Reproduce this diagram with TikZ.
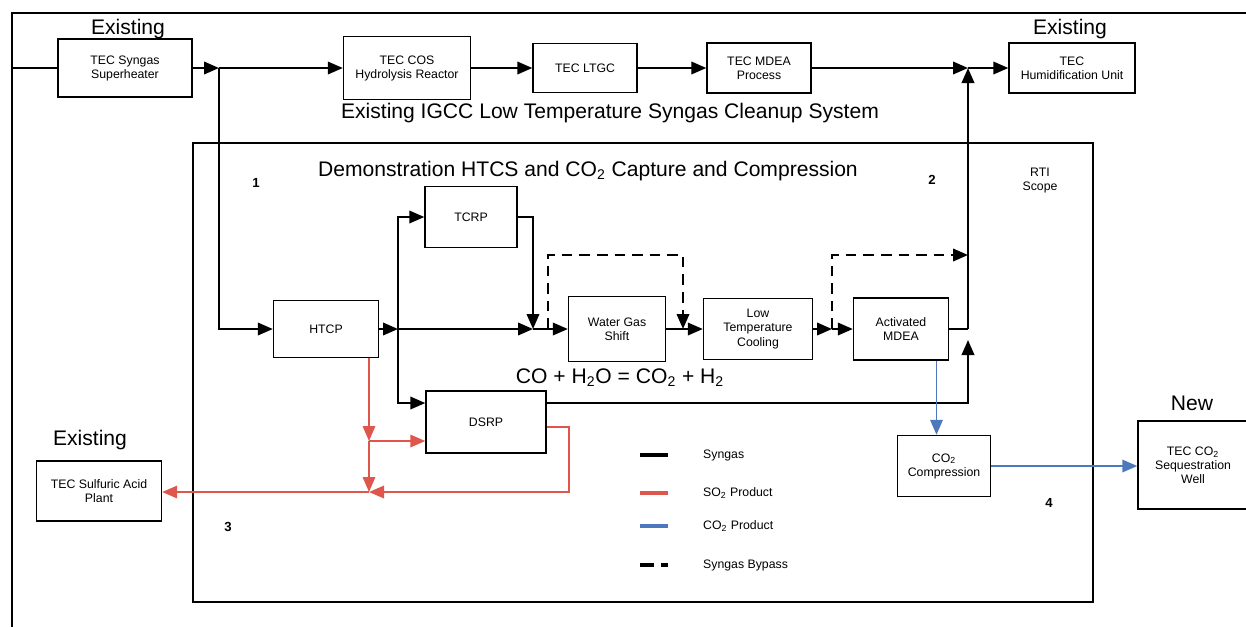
\documentclass[tikz,border=0pt]{standalone}
\usepackage{fontspec}
\setmainfont{Liberation Sans}
\setsansfont{Liberation Sans}
\usetikzlibrary{arrows.meta}

\begin{document}
\begin{tikzpicture}[x=0.02cm, y=-0.02cm, font=\sffamily,
  unit/.style={draw, line width=0.8pt, align=center, inner sep=1pt, font=\fontsize{7}{8}\selectfont},
  tag/.style={font=\fontsize{12}{14}\selectfont},
  title/.style={font=\fontsize{12}{14}\selectfont},
  num/.style={font=\fontsize{7.5}{9}\selectfont\bfseries},
  syn/.style={line width=1.2pt},
  flow/.style={syn, -{Triangle[length=3mm, width=2.5mm]}},
  bypass/.style={flow, dash pattern=on 6pt off 4pt},
  so2/.style={line width=1pt, draw={rgb,255:red,222;green,86;blue,76}, -{Triangle[length=3mm, width=2.5mm]}},
  co2/.style={line width=1pt, draw={rgb,255:red,78;green,120;blue,190}, -{Triangle[length=3mm, width=2.5mm]}}]
\useasboundingbox (0,0) rectangle (1246,627);
\draw[line width=1.6pt] (12,627) -- (12,13) -- (1246,13);
\draw[line width=0.8pt] (193,143) rectangle (1093,602);
\node[unit, minimum width=2.68cm, minimum height=1.16cm] (sup) at (125,68) {TEC Syngas\\Superheater};
\node[unit, minimum width=2.54cm, minimum height=1.26cm] (cos) at (407,68) {TEC COS\\Hydrolysis Reactor};
\node[unit, minimum width=2.08cm, minimum height=0.98cm] (ltgc) at (585,68) {TEC LTGC};
\node[unit, minimum width=2.08cm, minimum height=1.0cm] (mdeap) at (759,68) {TEC MDEA\\Process};
\node[unit, minimum width=2.52cm, minimum height=1.0cm] (hum) at (1072,68) {TEC\\Humidification Unit};
\node[unit, minimum width=1.84cm, minimum height=1.22cm] (tcrp) at (471,217) {TCRP};
\node[unit, minimum width=2.1cm, minimum height=1.14cm] (htcp) at (326,329) {HTCP};
\node[unit, minimum width=1.94cm, minimum height=1.3cm] (wgs) at (617,329) {Water Gas\\Shift};
\node[unit, minimum width=2.18cm, minimum height=1.22cm] (ltc) at (758,329) {Low\\Temperature\\Cooling};
\node[unit, minimum width=1.9cm, minimum height=1.24cm] (amdea) at (901,329) {Activated\\MDEA};
\node[unit, minimum width=2.4cm, minimum height=1.24cm] (dsrp) at (486,422) {DSRP};
\node[unit, minimum width=1.86cm, minimum height=1.22cm] (comp) at (944,466) {CO\textsubscript{2}\\Compression};
\node[unit, minimum width=2.2cm, minimum height=1.76cm] (well) at (1193,465) {TEC CO\textsubscript{2}\\Sequestration\\Well};
\node[unit, minimum width=2.5cm, minimum height=1.2cm] (sulf) at (99,491) {TEC Sulfuric Acid\\Plant};
\node[tag] (ex1) at (128,29) {Existing};
\node[tag] (ex2) at (1070,29) {Existing};
\node[tag] (ex3) at (90,440) {Existing};
\node[tag] (new) at (1192,403) {New};
\node[title] (igcc) at (610,113) {Existing IGCC Low Temperature Syngas Cleanup System};
\node[title] (demo) at (588,171) {Demonstration HTCS and CO\textsubscript{2} Capture and Compression};
\node[font=\fontsize{12}{14}\selectfont] (react) at (620,378) {CO + H\textsubscript{2}O = CO\textsubscript{2} + H\textsubscript{2}};
\node[align=center, font=\fontsize{7}{8}\selectfont] (rti) at (1040,181) {RTI\\Scope};
\foreach \n/\x/\y in {1/256/183, 2/932/180, 3/228/527, 4/1049/503}{\node[num] at (\x,\y) {\n};}
\coordinate (inlet) at (12,68);
\coordinate (j1) at (219,68);
\coordinate (j2) at (398,329);
\coordinate (j3) at (968,68);
\coordinate (j4) at (533,329);
\coordinate (j5) at (832,329);
\coordinate (j7) at (968,340);
\coordinate (j8) at (968,255);
\coordinate (b1) at (548,329);
\coordinate (b2) at (683,329);
\coordinate (r1) at (369,441);
\coordinate (r2) at (369,492);
\draw[syn] (inlet) -- (sup);
\draw[flow] (sup) -- (j1);
\draw[flow] (j1) -- (cos);
\draw[flow] (cos) -- (ltgc);
\draw[flow] (ltgc) -- (mdeap);
\draw[flow] (mdeap) -- (j3);
\draw[flow] (j3) -- (hum);
\draw[flow] (j1) |- (htcp);
\draw[flow] (htcp) -- (j2);
\draw[flow] (j2) |- (tcrp);
\draw[flow] (j2) -- (j4);
\draw[flow] (tcrp) -| (j4);
\draw[flow] (j4) -- (wgs);
\draw[flow] (wgs) -- (ltc);
\draw[flow] (ltc) -- (j5);
\draw[flow] (j5) -- (amdea);
\draw[syn] (amdea) -- (amdea -| j3);
\draw[flow] (amdea -| j3) -- (j3);
\draw[flow] (j2) |- ([yshift=0.38cm]dsrp.west);
\draw[flow] ([yshift=0.38cm]dsrp.east) -| (j7);
\draw[bypass] (b1) -- ++(0,-74) -| (b2);
\draw[bypass] (j5) -- ++(0,-74) -- (j8);
\draw[so2] (r1 |- htcp.south) -- (r1);
\draw[so2] (r1) -- (r1 -| dsrp.west);
\draw[so2] (r1) -- (r2);
\draw[so2] ([yshift=-0.1cm]dsrp.east) -- ++(22,0) |- (r2);
\draw[so2] (r2) -- (r2 -| sulf.east);
\draw[co2] ([xshift=0.71cm]amdea.south) -- ([xshift=0.71cm]amdea.south |- comp.north);
\draw[co2] (comp) -- (comp -| well.west);
\foreach \y/\col/\txt in {455/black/Syngas, 493/{rgb,255:red,222;green,86;blue,76}/SO\textsubscript{2} Product, 526/{rgb,255:red,78;green,120;blue,190}/CO\textsubscript{2} Product}{\draw[line width=2.2pt, draw=\col] (640,\y) -- (668,\y);\node[anchor=west, font=\fontsize{7}{8}\selectfont] at (697,\y) {\txt};}
\draw[line width=2.8pt, dash pattern=on 8pt off 4pt] (640,565) -- (668,565);
\node[anchor=west, font=\fontsize{7}{8}\selectfont] (leg4) at (697,565) {Syngas Bypass};
\end{tikzpicture}
\end{document}
